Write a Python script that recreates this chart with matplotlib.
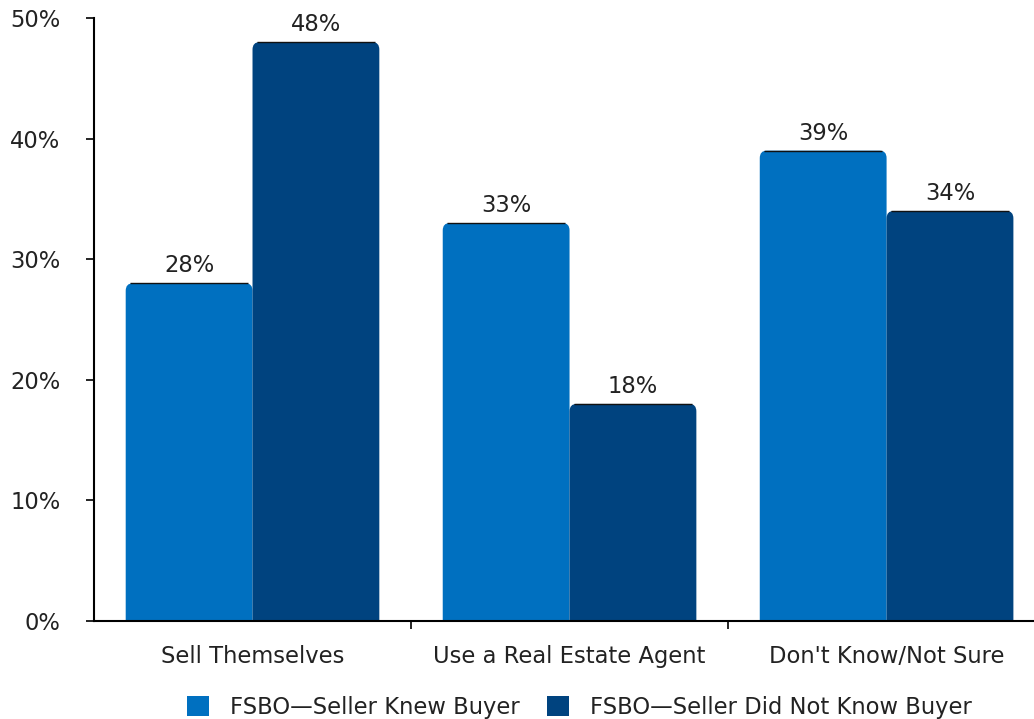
import matplotlib.pyplot as plt
from matplotlib.patches import FancyBboxPatch, Patch
import numpy as np

categories = ["Sell Themselves", "Use a Real Estate Agent", "Don't Know/Not Sure"]
knew_buyer = [28, 33, 39]
did_not_know = [48, 18, 34]
series_names = ["FSBO\u2014Seller Knew Buyer", "FSBO\u2014Seller Did Not Know Buyer"]
colors = ["#0070C0", "#00437F"]

plt.rcParams['font.family'] = ['DejaVu Sans']
fs = 16.3
txt = "#222222"

fig = plt.figure(figsize=(10.34, 7.19), dpi=100)
ax = fig.add_axes([94 / 1034, 1 - 621 / 719, 1 - 94 / 1034, (621 - 18) / 719])

x = np.arange(len(categories))
w = 0.4
r = 0.022


def rounded_bars(xs, vals, color):
    for xi, v in zip(xs, vals):
        p = FancyBboxPatch((xi - w / 2, -3), w, v + 3,
                           boxstyle=f"round,pad=0,rounding_size={r}",
                           mutation_aspect=28, facecolor=color,
                           edgecolor="none", clip_on=True)
        ax.add_patch(p)
        # thin dark line along the top of the bar
        ax.plot([xi - w / 2 + r * 0.6, xi + w / 2 - r * 0.6], [v, v],
                color="#111111", lw=1.0, solid_capstyle="butt")
        ax.text(xi, v + 0.5, f"{v}%", ha="center", va="bottom", fontsize=fs, color=txt)


rounded_bars(x - w / 2, knew_buyer, colors[0])
rounded_bars(x + w / 2, did_not_know, colors[1])

ax.set_yticks(range(0, 51, 10))
ax.set_yticklabels([f"{t}%" for t in range(0, 51, 10)], fontsize=fs, color=txt)

# boundary ticks between groups, category names as free text
ax.set_xticks([0.5, 1.5, 2.5])
ax.set_xticklabels([])
ax.set_xlim(-0.5, 2.465)
ax.set_ylim(0, 50)
ax.tick_params(axis="x", length=6, width=1.2, color="black", direction="out")
ax.tick_params(axis="y", length=6, width=1.2, color="black", direction="out", pad=18)
for xi, c in zip(x, categories):
    ax.text(xi, -2.0, c, ha="center", va="top", fontsize=fs, color=txt)

for s in ["top", "right"]:
    ax.spines[s].set_visible(False)
for s in ["left", "bottom"]:
    ax.spines[s].set_linewidth(1.5)
    ax.spines[s].set_color("black")

handles = [Patch(facecolor=c, edgecolor="none") for c in colors]
fig.legend(handles, series_names, loc="lower center", ncol=2, frameon=False,
           fontsize=fs, bbox_to_anchor=(0.56, 0.0), borderaxespad=0.0,
           borderpad=0.0, handlelength=1.0, handleheight=1.0,
           columnspacing=1.2, handletextpad=0.9, labelcolor=txt)

fig.savefig("out.png", dpi=100)
